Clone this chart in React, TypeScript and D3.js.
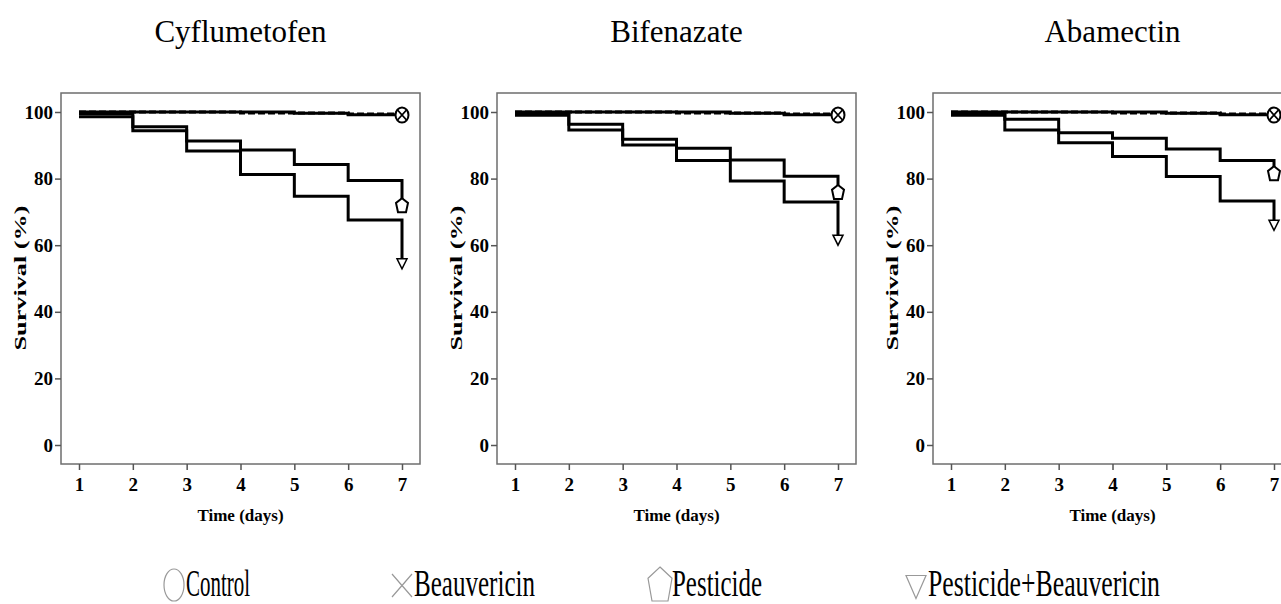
import * as d3 from 'd3';
import { useEffect, useRef } from 'react';

// survival (%) at the end of each day
const days = [1, 2, 3, 4, 5, 6, 7];
const yTicks = [0, 20, 40, 60, 80, 100];
const pesticideNames = ['Cyflumetofen', 'Bifenazate', 'Abamectin'];

const controlSurvival = [100, 100, 100, 99.7, 99.7, 99.4, 99.4];
const beauvericinSurvival = [100, 100, 100, 100, 99.6, 99.2, 99.1];

const cyflumetofenSurvival = [99.5, 95.6, 91.3, 88.6, 84.2, 79.4, 72];
const cyflumetofenComboSurvival = [98.6, 94.4, 88.3, 81.2, 74.7, 67.6, 54.4];
const bifenazateSurvival = [99.5, 96.3, 91.8, 89.1, 85.6, 80.7, 76];
const bifenazateComboSurvival = [99, 94.6, 90.1, 85.4, 79.3, 73, 61.5];
const abamectinSurvival = [99.5, 97.8, 93.8, 92.1, 88.9, 85.4, 81.6];
const abamectinComboSurvival = [99, 94.6, 90.8, 86.6, 80.6, 73.3, 66];

const legendLabels = ['Control', 'Beauvericin', 'Pesticide', 'Pesticide+Beauvericin'];

function App() {
    return <Figure />;
}

const pentagon = (cx: number, cy: number, w: number, h: number) => {
    const pts = [
        [0, -h / 2],
        [w / 2, -h / 6],
        [w / 3, h / 2],
        [-w / 3, h / 2],
        [-w / 2, -h / 6],
    ];
    return 'M' + pts.map((p) => `${cx + p[0]},${cy + p[1]}`).join('L') + 'Z';
};

const triangleDown = (cx: number, cy: number, w: number, h: number) =>
    `M${cx - w / 2},${cy - h / 2}L${cx + w / 2},${cy - h / 2}L${cx},${cy + h / 2}Z`;

const Figure = () => {
    const svgRef = useRef<SVGSVGElement>(null);

    useEffect(() => {
        const W = 1281;
        const H = 604;
        const panelW = 359;
        const top = 93;
        const bottom = 464;
        const font = '"Liberation Serif", "Times New Roman", serif';

        d3.select(svgRef.current).selectAll('*').remove();
        const svg = d3.select(svgRef.current).attr('width', W).attr('height', H);

        const panels = pesticideNames.map((name, i) => ({
            name,
            pesticide: [cyflumetofenSurvival, bifenazateSurvival, abamectinSurvival][i],
            combo: [cyflumetofenComboSurvival, bifenazateComboSurvival, abamectinComboSurvival][i],
        }));

        panels.forEach((p, i) => {
            const left = 61 + i * 436;
            const x = d3.scaleLinear().domain([1, 7]).range([left + 18, left + panelW - 18]);
            const y = d3.scaleLinear().domain([0, 100]).range([445, 112]);
            const g = svg.append('g');

            g.append('text')
                .attr('x', left + panelW / 2)
                .attr('y', 42)
                .attr('text-anchor', 'middle')
                .style('font-family', font)
                .style('font-size', '31px')
                .text(p.name);

            g.append('rect')
                .attr('x', left)
                .attr('y', top)
                .attr('width', panelW)
                .attr('height', bottom - top)
                .attr('fill', 'none')
                .attr('stroke', '#6e6e6e')
                .attr('stroke-width', 1.5);

            const yAxis = g
                .append('g')
                .attr('transform', `translate(${left},0)`)
                .call(d3.axisLeft(y).tickValues(yTicks).tickSize(6).tickPadding(2).tickFormat(d3.format('d')));
            const xAxis = g
                .append('g')
                .attr('transform', `translate(0,${bottom})`)
                .call(d3.axisBottom(x).tickValues(days).tickSize(6).tickPadding(8).tickFormat(d3.format('d')));
            [yAxis, xAxis].forEach((a) => {
                a.select('.domain').remove();
                a.selectAll('line').attr('stroke', '#555').attr('stroke-width', 1.5);
                a.selectAll('text')
                    .style('font-family', font)
                    .style('font-size', '19px')
                    .style('font-weight', 'bold')
                    .attr('fill', '#000');
            });

            g.append('text')
                .attr('transform', `translate(${left - 35},278) rotate(-90)`)
                .attr('text-anchor', 'middle')
                .attr('textLength', 145)
                .attr('lengthAdjust', 'spacingAndGlyphs')
                .style('font-family', font)
                .style('font-size', '17px')
                .style('font-weight', 'bold')
                .text('Survival (%)');

            g.append('text')
                .attr('x', left + panelW / 2)
                .attr('y', 521)
                .attr('text-anchor', 'middle')
                .style('font-family', font)
                .style('font-size', '17px')
                .style('font-weight', 'bold')
                .text('Time (days)');

            const line = d3
                .line<number>()
                .x((_, j) => x(days[j]))
                .y((v) => y(v))
                .curve(d3.curveStepAfter);

            const series = [
                { values: p.combo, dash: null },
                { values: p.pesticide, dash: null },
                { values: controlSurvival, dash: '7,3' },
                { values: beauvericinSurvival, dash: null },
            ];
            series.forEach((s) => {
                g.append('path')
                    .attr('d', line(s.values))
                    .attr('fill', 'none')
                    .attr('stroke', '#000')
                    .attr('stroke-width', 3)
                    .attr('stroke-dasharray', s.dash);
            });

            const ex = x(days[days.length - 1]);
            const last = (a: number[]) => y(a[a.length - 1]);

            g.append('path')
                .attr('d', pentagon(ex, last(p.pesticide), 12, 14))
                .attr('fill', '#fff')
                .attr('stroke', '#000')
                .attr('stroke-width', 2);
            g.append('path')
                .attr('d', triangleDown(ex, last(p.combo), 10, 10))
                .attr('fill', '#fff')
                .attr('stroke', '#000')
                .attr('stroke-width', 1.5);

            const cy = last(beauvericinSurvival);
            g.append('ellipse')
                .attr('cx', ex)
                .attr('cy', cy)
                .attr('rx', 6.5)
                .attr('ry', 7.5)
                .attr('fill', '#fff')
                .attr('stroke', '#000')
                .attr('stroke-width', 2);
            g.append('path')
                .attr('d', `M${ex - 4.5},${cy - 5}L${ex + 4.5},${cy + 5}M${ex + 4.5},${cy - 5}L${ex - 4.5},${cy + 5}`)
                .attr('stroke', '#000')
                .attr('stroke-width', 1.8);
        });

        // legend
        const legendSymX = [174, 402, 660, 916];
        const legendWidths = [64, 121, 90, 232];
        const ly = 585;
        const leg = svg.append('g');
        legendLabels.forEach((label, i) => {
            const sx = legendSymX[i];
            let d = '';
            if (i === 0) {
                leg.append('ellipse')
                    .attr('cx', sx)
                    .attr('cy', ly)
                    .attr('rx', 10)
                    .attr('ry', 16)
                    .attr('fill', 'none')
                    .attr('stroke', '#999')
                    .attr('stroke-width', 1.2);
            } else if (i === 1) {
                d = `M${sx - 10},${ly - 11}L${sx + 10},${ly + 12}M${sx + 10},${ly - 11}L${sx - 10},${ly + 12}`;
            } else if (i === 2) {
                d = pentagon(sx, ly - 1, 24, 34);
            } else {
                d = triangleDown(sx, ly + 2, 20, 23);
            }
            if (d) {
                leg.append('path')
                    .attr('d', d)
                    .attr('fill', 'none')
                    .attr('stroke', '#999')
                    .attr('stroke-width', 1.2);
            }
            leg.append('text')
                .attr('x', sx + 12)
                .attr('y', 596)
                .attr('textLength', legendWidths[i])
                .attr('lengthAdjust', 'spacingAndGlyphs')
                .style('font-family', font)
                .style('font-size', '37px')
                .text(label);
        });
    }, []);

    return (
        <div style={{ position: 'absolute', left: 0, top: 0, background: '#fff' }}>
            <svg ref={svgRef} style={{ display: 'block' }}></svg>
        </div>
    );
};

export default App;
